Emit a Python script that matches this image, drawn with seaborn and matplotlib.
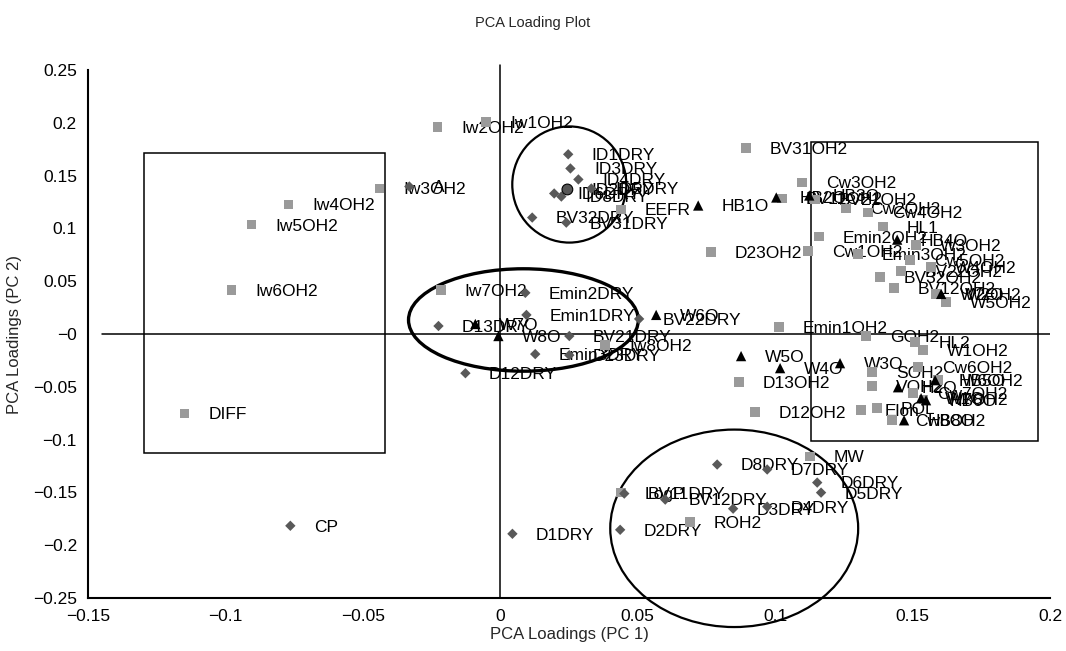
import pandas as pd
import numpy as np
import matplotlib
matplotlib.use("Agg")
import matplotlib.pyplot as plt
import matplotlib.patches as mpatches
from matplotlib.ticker import FuncFormatter
import seaborn as sns

# OH2 variables (grey squares)
sq_labels = ["Iw2OH2", "Iw1OH2", "Iw3OH2", "Iw4OH2", "Iw5OH2", "Iw6OH2", "DIFF", "Iw7OH2",
             "Iw8OH2", "EEFR", "BV31OH2", "Cw3OH2", "D23OH2", "Emin1OH2", "BV11OH2", "BV21OH2",
             "Cw2OH2", "Cw4OH2", "HL1", "Emin2OH2", "Cw1OH2", "Emin3OH2", "W3OH2", "Cw5OH2",
             "W4OH2", "BV22OH2", "BV32OH2", "BV12OH2", "W2OH2", "W5OH2", "GOH2", "HL2",
             "W1OH2", "SOH2", "VOH2", "Cw6OH2", "W6OH2", "Cw7OH2", "W7OH2", "Elon", "POL",
             "Cw8OH2", "D13OH2", "D12OH2", "MW", "LogP", "ROH2"]
sq_x = [-0.0229, -0.0051, -0.0440, -0.0771, -0.0905, -0.0978, -0.1149, -0.0215,
        0.0382, 0.0440, 0.0895, 0.1098, 0.0767, 0.1015, 0.1025, 0.1145,
        0.1258, 0.1338, 0.1393, 0.1160, 0.1120, 0.1302, 0.1513, 0.1491,
        0.1567, 0.1458, 0.1382, 0.1433, 0.1585, 0.1622, 0.1331, 0.1509,
        0.1538, 0.1353, 0.1353, 0.1520, 0.1593, 0.1502, 0.1540, 0.1313, 0.1371,
        0.1425, 0.0869, 0.0927, 0.1127, 0.0440, 0.0691]
sq_y = [0.1958, 0.2006, 0.1378, 0.1226, 0.1036, 0.0418, -0.0751, 0.0418,
        -0.0105, 0.1179, 0.1759, 0.1435, 0.0779, 0.0067, 0.1283, 0.1274,
        0.1188, 0.1150, 0.1017, 0.0922, 0.0789, 0.0760, 0.0846, 0.0703,
        0.0637, 0.0599, 0.0542, 0.0437, 0.0380, 0.0304, -0.0019, -0.0076,
        -0.0152, -0.0361, -0.0494, -0.0314, -0.0437, -0.0561, -0.0620, -0.0722, -0.0703,
        -0.0817, -0.0456, -0.0741, -0.1160, -0.1502, -0.1778]

# DRY variables (dark diamonds)
dm_labels = ["A", "CP", "D1DRY", "D2DRY", "D12DRY", "D13DRY", "Emin2DRY", "Emin1DRY",
             "BV21DRY", "Emin3DRY", "D23DRY", "BV22DRY", "ID1DRY", "ID3DRY", "ID4DRY",
             "ID6DRY", "ID8DRY", "ID5DRY", "BV32DRY", "BV31DRY", "D8DRY", "D7DRY",
             "D6DRY", "D5DRY", "D3DRY", "D4DRY", "BV11DRY", "BV12DRY"]
dm_x = [-0.0331, -0.0764, 0.0044, 0.0436, -0.0127, -0.0225, 0.0091, 0.0095,
        0.0251, 0.0127, 0.0251, 0.0505, 0.0247, 0.0255, 0.0284,
        0.0196, 0.0222, 0.0331, 0.0116, 0.0240, 0.0789, 0.0971,
        0.1153, 0.1167, 0.0847, 0.0971, 0.0451, 0.0600]
dm_y = [0.1397, -0.1816, -0.1892, -0.1854, -0.0371, 0.0076, 0.0390, 0.0181,
        -0.0019, -0.0190, -0.0200, 0.0143, 0.1702, 0.1568, 0.1464,
        0.1331, 0.1302, 0.1378, 0.1103, 0.1055, -0.1236, -0.1283,
        -0.1407, -0.1502, -0.1654, -0.1635, -0.1511, -0.1568]

# O variables (black triangles)
tr_labels = ["W7O", "W8O", "W6O", "HB1O", "HB2O", "HB3O", "HB4O", "W2O", "W5O", "W4O",
             "W3O", "H2O", "HB5O", "W1O", "HB6O", "HB8O"]
tr_x = [-0.0091, -0.0007, 0.0567, 0.0720, 0.1004, 0.1124, 0.1444, 0.1604, 0.0876, 0.1018,
        0.1236, 0.1447, 0.1582, 0.1531, 0.1549, 0.1469]
tr_y = [0.0095, -0.0019, 0.0181, 0.1217, 0.1293, 0.1312, 0.0894, 0.0380, -0.0209, -0.0323,
        -0.0276, -0.0504, -0.0437, -0.0608, -0.0627, -0.0817]

# single round marker
ci_labels = ["ID2DRY"]
ci_x = [0.0244]
ci_y = [0.1369]

df = pd.concat([
    pd.DataFrame({"x": sq_x, "y": sq_y, "label": sq_labels, "kind": "sq"}),
    pd.DataFrame({"x": dm_x, "y": dm_y, "label": dm_labels, "kind": "dm"}),
    pd.DataFrame({"x": tr_x, "y": tr_y, "label": tr_labels, "kind": "tr"}),
    pd.DataFrame({"x": ci_x, "y": ci_y, "label": ci_labels, "kind": "ci"}),
], ignore_index=True)

sns.set_style("white")
plt.rcParams["font.family"] = ["Liberation Sans", "DejaVu Sans"]

fig = plt.figure(figsize=(10.66, 6.51), dpi=100)
ax = fig.add_axes([0.0826, 0.0814, 0.9024, 0.811])

# zero lines
ax.plot([-0.145, 0.2], [0, 0], color="black", lw=1.1, zorder=1)
ax.plot([0, 0], [-0.25, 0.255], color="black", lw=1.1, zorder=1, clip_on=False)

sns.scatterplot(data=df, x="x", y="y", hue="kind", style="kind",
                palette={"sq": "#9a9a9a", "dm": "#595959", "tr": "#000000", "ci": "#555555"},
                markers={"sq": "s", "dm": "D", "tr": "^", "ci": "o"},
                size="kind", sizes={"sq": 48, "dm": 28, "tr": 55, "ci": 60},
                edgecolor="none", legend=False, ax=ax, zorder=3)
# outline for the round marker
ax.scatter(ci_x, ci_y, s=60, facecolor="none", edgecolor="black", lw=0.8, zorder=4)

for _, r in df.iterrows():
    ax.annotate(r["label"], (r["x"], r["y"]), xytext=(17, -1), textcoords="offset points",
                ha="left", va="center", fontsize=12.5, color="black", zorder=2)

# grouping shapes
ax.add_patch(mpatches.Rectangle((-0.1298, -0.113), 0.088, 0.284, fill=False,
                                ec="black", lw=1.1, zorder=2))
ax.add_patch(mpatches.Rectangle((0.1131, -0.1017), 0.0825, 0.2833, fill=False,
                                ec="black", lw=1.1, zorder=2))
ax.add_patch(mpatches.Ellipse((0.0251, 0.1416), 0.0415, 0.110, fill=False,
                              ec="black", lw=1.6, zorder=2))
ax.add_patch(mpatches.Ellipse((0.0084, 0.0133), 0.0836, 0.097, fill=False,
                              ec="black", lw=2.4, zorder=2))
ax.add_patch(mpatches.Ellipse((0.0851, -0.184), 0.0902, 0.187, fill=False,
                              ec="black", lw=1.6, zorder=2, clip_on=False))

ax.set_xlim(-0.15, 0.2)
ax.set_ylim(-0.25, 0.25)
ax.set_xticks(np.arange(-0.15, 0.201, 0.05))
ax.set_yticks(np.arange(-0.25, 0.251, 0.05))
fmt = FuncFormatter(lambda v, p: f"{round(v, 3):g}".replace("-", "\u2212"))
ax.xaxis.set_major_formatter(fmt)
ax.yaxis.set_major_formatter(fmt)
ax.tick_params(direction="in", length=5, width=1.2, labelsize=12.5, colors="black")
ax.tick_params(axis="x", pad=8)
ax.tick_params(axis="y", pad=8)

for s in ["top", "right"]:
    ax.spines[s].set_visible(False)
for s in ["left", "bottom"]:
    ax.spines[s].set_color("black")
    ax.spines[s].set_linewidth(1.5)

ax.set_xlabel("PCA Loadings (PC 1)", fontsize=12, labelpad=2)
ax.set_ylabel("PCA Loadings (PC 2)", fontsize=12, labelpad=8)
fig.suptitle("PCA Loading Plot", x=0.5, y=0.975, fontsize=10.5)

fig.savefig("out.png", dpi=100)
